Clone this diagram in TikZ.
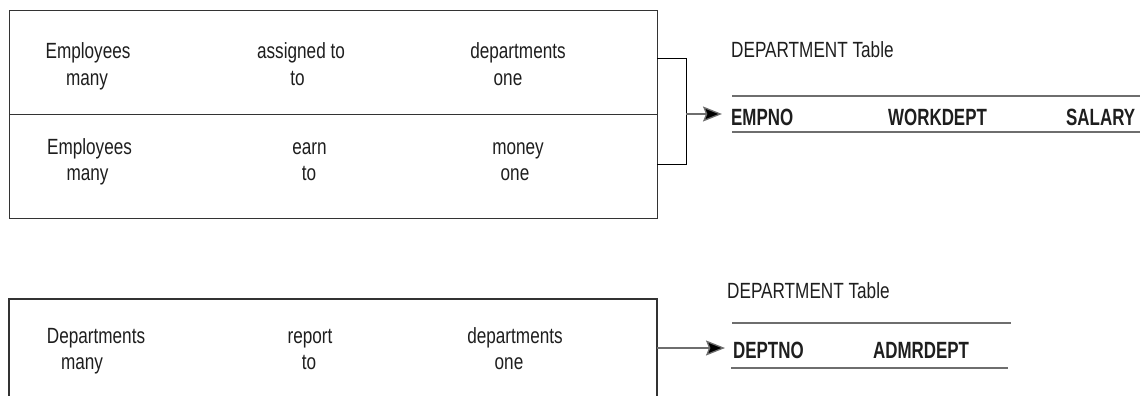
\documentclass[tikz,border=0pt]{standalone}
\usepackage{fontspec}
\setmainfont{Liberation Sans}[FakeStretch=0.78]
\newfontfamily\colfont{Liberation Sans}[FakeStretch=0.72]
\usetikzlibrary{arrows.meta}
\definecolor{boxline}{HTML}{333333}
\definecolor{connline}{HTML}{6E6E6E}
\definecolor{txt}{HTML}{1E1E1E}
\begin{document}
\begin{tikzpicture}[x=1pt,y=-1pt,
  lbl/.style={inner sep=0pt,anchor=base,text=txt,font=\fontsize{22}{26}\selectfont},
  hdr/.style={inner sep=0pt,anchor=base west,text=txt,font=\fontsize{22}{26}\selectfont},
  col/.style={inner sep=0pt,anchor=base west,text=txt,font=\colfont\bfseries\fontsize{23.5}{27}\selectfont},
  boxrule/.style={draw=boxline,line width=1.1pt},
  tabrule/.style={draw=connline,line width=1.3pt},
  conn/.style={draw=connline,line width=1.3pt},
  arr/.style={conn,-{Stealth[length=19pt,width=15pt,inset=3pt,fill=black]}},
  brk/.style={draw=black,line width=1pt}]
\useasboundingbox (0,0) rectangle (1140,396);

% top box: two rows
\node[boxrule,minimum width=648pt,minimum height=104pt,inner sep=0pt,anchor=north west] (rowA) at (9,10) {};
\node[boxrule,minimum width=648pt,minimum height=104pt,inner sep=0pt,anchor=north west] (rowB) at (9,114) {};

% row A texts
\node[lbl] (a1) at (88,59) {Employees};
\node[lbl] (a2) at (87,85) {many};
\node[lbl] (a3) at (301,59) {assigned to};
\node[lbl] (a4) at (297.5,85) {to};
\node[lbl] (a5) at (518,59) {departments};
\node[lbl] (a6) at (508,85) {one};
% row B texts
\node[lbl] (b1) at (89.5,154) {Employees};
\node[lbl] (b2) at (87.5,180) {many};
\node[lbl] (b3) at (309.5,154) {earn};
\node[lbl] (b4) at (309,180) {to};
\node[lbl] (b5) at (518,154) {money};
\node[lbl] (b6) at (515,180) {one};

% bracket and arrow
\coordinate (brA) at (657,59);
\coordinate (brB) at (657,164);
\coordinate (brM) at (686,114);
\draw[brk] (brA) -- (686,59) -- (686,164) -- (brB);

% top table
\node[hdr] (t1) at (731,58) {DEPARTMENT Table};
\coordinate (t1a) at (732,96);
\coordinate (t1b) at (1140,96);
\coordinate (t1c) at (732,132);
\coordinate (t1d) at (1140,132);
\draw[tabrule] (t1a) -- (t1b);
\draw[tabrule] (t1c) -- (t1d);
\node[col] (empno) at (731,125) {EMPNO};
\node[col] (workdept) at (888,125) {WORKDEPT};
\node[col] (salary) at (1066,125) {SALARY};
\coordinate (tipA) at (722,114);
\draw[arr] (brM) -- (tipA);

% lower box (cut off at bottom)
\coordinate (lb1) at (9,396);
\coordinate (lb2) at (9,299);
\coordinate (lb3) at (657,299);
\coordinate (lb4) at (657,396);
\draw[boxrule] (lb1) -- (lb2) -- (lb3) -- (lb4);
\node[lbl] (c1) at (96,343) {Departments};
\node[lbl] (c2) at (82,369) {many};
\node[lbl] (c3) at (310,343) {report};
\node[lbl] (c4) at (309,369) {to};
\node[lbl] (c5) at (515,343) {departments};
\node[lbl] (c6) at (509,369) {one};

% lower table
\node[hdr] (t2) at (727,298) {DEPARTMENT Table};
\coordinate (t2a) at (732,323);
\coordinate (t2b) at (1011,323);
\coordinate (t2c) at (731,368);
\coordinate (t2d) at (1008,368);
\draw[tabrule] (t2a) -- (t2b);
\draw[tabrule] (t2c) -- (t2d);
\node[col] (deptno) at (733,358) {DEPTNO};
\node[col] (admrdept) at (873,358) {ADMRDEPT};
\coordinate (lbArr) at (657,348);
\coordinate (tipB) at (725,348);
\draw[arr] (lbArr) -- (tipB);
\end{tikzpicture}
\end{document}
